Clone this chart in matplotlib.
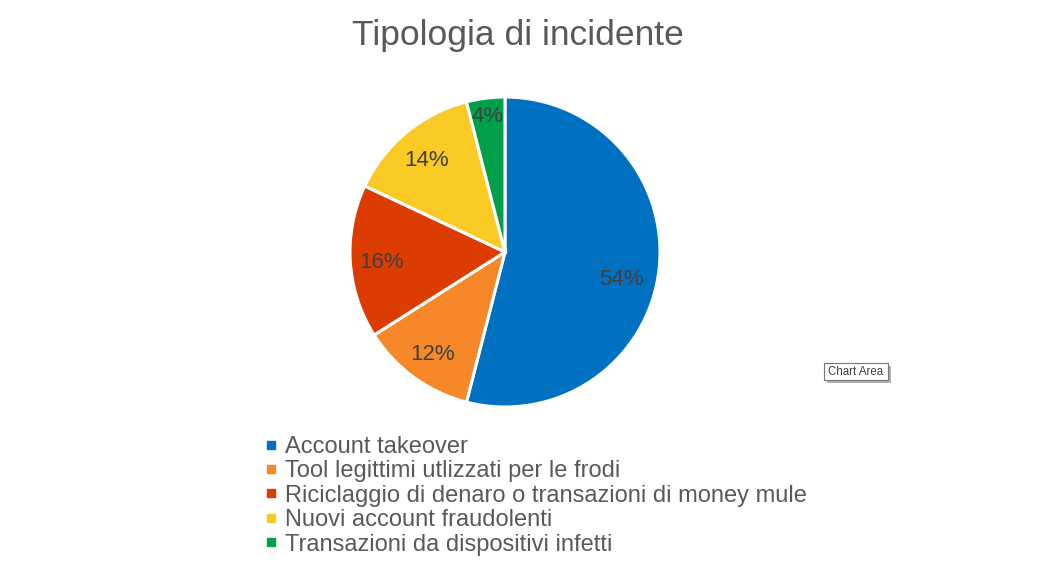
import numpy as np
import matplotlib.pyplot as plt
from matplotlib.lines import Line2D
from matplotlib.patches import FancyBboxPatch

# Data
categories = ["Account takeover",
              "Tool legittimi utlizzati per le frodi",
              "Riciclaggio di denaro o transazioni di money mule",
              "Nuovi account fraudolenti",
              "Transazioni da dispositivi infetti"]
values = [54, 12, 16, 14, 4]
colors = ["#0070C0", "#F6882A", "#DD3C00", "#F9CA24", "#00A04B"]

plt.rcParams['font.family'] = ['Liberation Sans', 'DejaVu Sans']

W, H = 1037, 567
fig = plt.figure(figsize=(W / 100, H / 100), dpi=100)

# pie axes: center (505, 252) px, radius 155 px
cx, cy, r = 505, 252, 155
ax = fig.add_axes([(cx - r) / W, (H - cy - r) / H, 2 * r / W, 2 * r / H])
wedges, _ = ax.pie(values, colors=colors, startangle=90, counterclock=False,
                   wedgeprops=dict(edgecolor="white", linewidth=2.2))
ax.set_xlim(-1, 1)
ax.set_ylim(-1, 1)
ax.set_aspect("equal")
ax.axis("off")

# percentage labels (Excel "best fit" style placement)
label_dist = [0.77, 0.80, 0.80, 0.79, 0.90]
label_turn = [-5, 0, 0, 0, 0]  # degrees
for w, v, d, t in zip(wedges, values, label_dist, label_turn):
    ang = np.deg2rad((w.theta1 + w.theta2) / 2 + t)
    ax.text(d * np.cos(ang), d * np.sin(ang), f"{v}%", ha="center", va="center_baseline",
            fontsize=16, color="#404040")

fig.text(518 / W, 1 - 36 / H, "Tipologia di incidente", ha="center", va="center",
         fontsize=25.5, color="#595959")

handles = [Line2D([], [], marker="s", linestyle="none", markersize=5.3, color=c)
           for c in colors]
fig.legend(handles, categories, loc="upper left", bbox_to_anchor=(252 / W, 1 - 424 / H),
           frameon=False, fontsize=17, labelcolor="#595959", handlelength=0.6,
           handletextpad=0.3, labelspacing=0.105, borderpad=0)

# "Chart Area" tooltip
tip = fig.add_axes([0, 0, 1, 1], zorder=5)
tip.set_xlim(0, W)
tip.set_ylim(H, 0)
tip.axis("off")
tip.add_patch(FancyBboxPatch((827, 366), 64, 17, boxstyle="square,pad=0",
                             facecolor="#B0B0B0", edgecolor="none"))
tip.add_patch(FancyBboxPatch((824, 363), 64, 17, boxstyle="square,pad=0",
                             facecolor="white", edgecolor="#767676", linewidth=0.8))
tip.text(856, 372, "Chart Area", ha="center", va="center", fontsize=8.3, color="#404040")

fig.savefig("out.png", dpi=100)
